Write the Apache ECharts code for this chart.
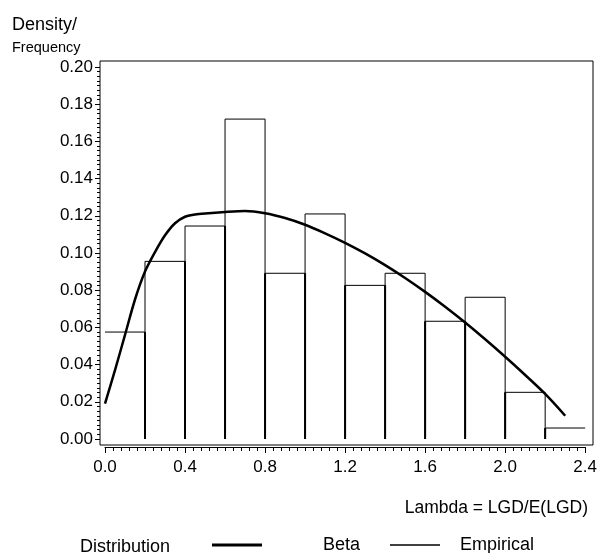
<!DOCTYPE html>
<html>
<head>
<meta charset="utf-8">
<script src="https://cdn.jsdelivr.net/npm/echarts@6/dist/echarts.min.js"></script>
<style>
html,body{margin:0;padding:0;background:#fff;}
#chart{width:600px;height:553px;}
</style>
</head>
<body>
<div id="chart"></div>
<script>
// Histogram bins (Lambda) and empirical density heights
var binStarts = [0.0, 0.2, 0.4, 0.6, 0.8, 1.0, 1.2, 1.4, 1.6, 1.8, 2.0, 2.2];
var binWidth = 0.2;
var empiricalHeights = [0.0575, 0.0955, 0.1145, 0.1720, 0.0891, 0.1210, 0.0826, 0.0891, 0.0633, 0.0762, 0.0251, 0.0059];

// Fitted Beta density curve
var betaX = [0.0, 0.05, 0.1, 0.15, 0.2, 0.25, 0.3, 0.35, 0.4, 0.45, 0.5, 0.6, 0.7, 0.8, 0.9, 1.0, 1.1, 1.2, 1.3, 1.4, 1.5, 1.6, 1.7, 1.8, 1.9, 2.0, 2.1, 2.2, 2.3];
var betaY = [0.019, 0.037, 0.056, 0.075, 0.090, 0.1005, 0.1095, 0.116, 0.1195, 0.1207, 0.1213, 0.1221, 0.1226, 0.1214, 0.1188, 0.1152, 0.1106, 0.1055, 0.0998, 0.0935, 0.0866, 0.0791, 0.0711, 0.0626, 0.0536, 0.0442, 0.0344, 0.0242, 0.0125];

// Axis ticks
var xTickMin = 0, xTickMax = 2.4, xTickStep = 0.4;
var yTickMin = 0, yTickMax = 0.2, yTickStep = 0.02;

var FONT = '"Liberation Sans", Arial, Helvetica, sans-serif';

var histData = binStarts.map(function (s, i) {
  return [s, s + binWidth, empiricalHeights[i], i];
});
var betaData = betaX.map(function (x, i) { return [x, betaY[i]]; });

var chart = echarts.init(document.getElementById('chart'), null, {renderer: 'canvas'});

var option = {
  animation: false,
  backgroundColor: '#fff',
  title: [
    {text: 'Density/', left: 12, top: 16, padding: 0, textStyle: {fontFamily: FONT, fontSize: 18, fontWeight: 'normal', color: '#000'}},
    {text: 'Frequency', left: 12, top: 40, padding: 0, textStyle: {fontFamily: FONT, fontSize: 14.5, fontWeight: 'normal', color: '#000'}},
    {text: 'Lambda = LGD/E(LGD)', right: 12, top: 499, padding: 0, textStyle: {fontFamily: FONT, fontSize: 17.5, fontWeight: 'normal', color: '#000'}},
    {text: 'Distribution', left: 80, top: 538, padding: 0, textStyle: {fontFamily: FONT, fontSize: 18, fontWeight: 'normal', color: '#000'}}
  ],
  legend: [
    {
      data: [{name: 'Beta', icon: 'path://M0,0h50v3h-50z', itemStyle: {color: '#000'}, textStyle: {padding: [0, 0, 0, 56]}}],
      left: 212, top: 536, padding: 0, itemWidth: 50, itemHeight: 13, selectedMode: false,
      textStyle: {fontFamily: FONT, fontSize: 18, color: '#000'}
    },
    {
      data: [{name: 'Empirical', icon: 'path://M0,0h50v1.3h-50z', itemStyle: {color: '#000'}, textStyle: {padding: [0, 0, 0, 15]}}],
      left: 390, top: 536, padding: 0, itemWidth: 50, itemHeight: 13, selectedMode: false,
      textStyle: {fontFamily: FONT, fontSize: 18, color: '#000'}
    }
  ],
  grid: [
    {left: 100, right: 7, top: 61, bottom: 108, show: true, borderColor: '#000', borderWidth: 1, backgroundColor: 'transparent'},
    {left: 105, right: 12, top: 67, bottom: 114}
  ],
  xAxis: [
    {gridIndex: 0, type: 'value', show: false, min: 0, max: 1},
    {
      gridIndex: 1, type: 'value', min: xTickMin, max: xTickMax, interval: xTickStep, offset: 8,
      axisLine: {show: true, onZero: false, lineStyle: {color: '#000', width: 1}},
      axisTick: {show: true, inside: false, length: 6, lineStyle: {color: '#000', width: 1}},
      minorTick: {show: true, splitNumber: 10, length: 4, lineStyle: {color: '#000', width: 1}},
      splitLine: {show: false},
      axisLabel: {color: '#000', fontFamily: FONT, fontSize: 17, margin: 12, formatter: function (v) { return v.toFixed(1); }}
    }
  ],
  yAxis: [
    {gridIndex: 0, type: 'value', show: false, min: 0, max: 1},
    {
      gridIndex: 1, type: 'value', min: yTickMin, max: yTickMax, interval: yTickStep, offset: 5,
      axisLine: {show: false, onZero: false},
      axisTick: {show: true, inside: false, length: 5, lineStyle: {color: '#000', width: 1}},
      minorTick: {show: true, splitNumber: 8, length: 3, lineStyle: {color: '#000', width: 1}},
      splitLine: {show: false},
      axisLabel: {color: '#000', fontFamily: FONT, fontSize: 17, margin: 7, formatter: function (v) { return v.toFixed(2); }}
    }
  ],
  series: [
    {
      name: 'Empirical',
      type: 'custom',
      xAxisIndex: 1, yAxisIndex: 1,
      itemStyle: {color: '#000'},
      data: histData,
      renderItem: function (params, api) {
        var i = params.dataIndex;
        var n = empiricalHeights.length;
        var x0 = api.value(0), x1 = api.value(1), h = api.value(2);
        var pts = [];
        if (i > 0) pts.push(api.coord([x0, 0]));
        pts.push(api.coord([x0, h]));
        pts.push(api.coord([x1, h]));
        if (i < n - 1) pts.push(api.coord([x1, 0]));
        var children = [{
          type: 'polyline',
          shape: {points: pts},
          style: {stroke: '#000', lineWidth: 1, fill: null}
        }];
        if (i < n - 1) {
          var hn = Math.min(h, empiricalHeights[i + 1]);
          var a = api.coord([x1, 0]);
          var b = api.coord([x1, hn]);
          children.push({
            type: 'line',
            shape: {x1: a[0], y1: a[1], x2: b[0], y2: b[1]},
            style: {stroke: '#000', lineWidth: 2}
          });
        }
        return {type: 'group', children: children};
      }
    },
    {
      name: 'Beta',
      type: 'line',
      xAxisIndex: 1, yAxisIndex: 1,
      data: betaData,
      smooth: 0.3,
      showSymbol: false,
      symbol: 'none',
      lineStyle: {color: '#000', width: 2.5},
      itemStyle: {color: '#000'},
      z: 3
    }
  ]
};
chart.setOption(option);
</script>
</body>
</html>
